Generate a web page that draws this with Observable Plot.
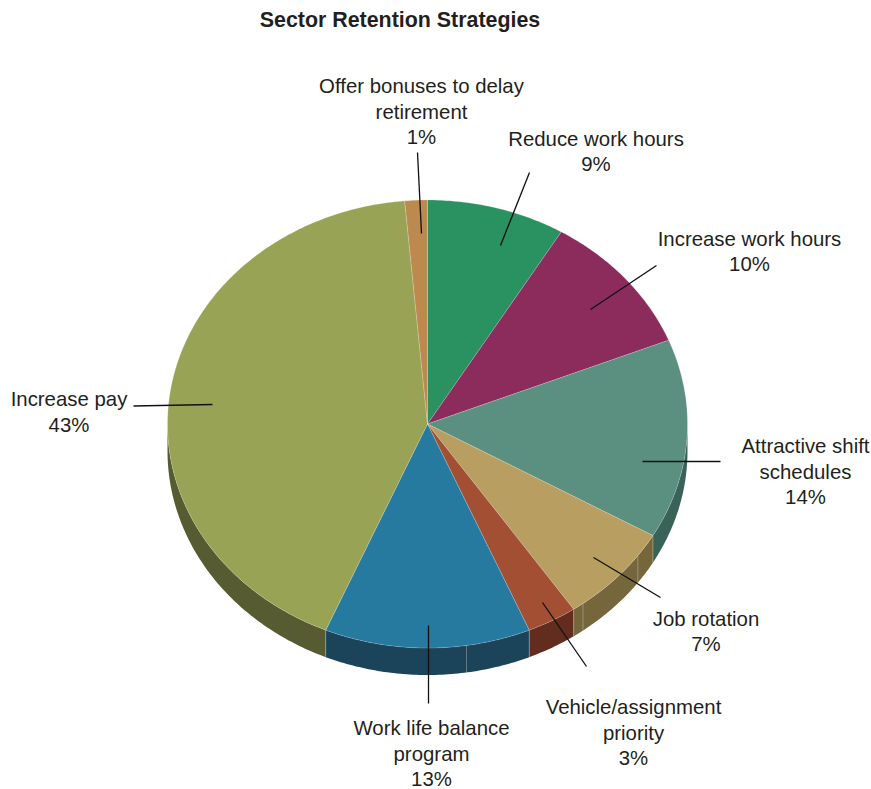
<!DOCTYPE html>
<html>
<head>
<meta charset="utf-8">
<script src="https://cdn.jsdelivr.net/npm/d3@7"></script>
<script src="https://cdn.jsdelivr.net/npm/@observablehq/plot@0.6"></script>
<style>
html,body{margin:0;padding:0;background:#fff;overflow:hidden}
#title{height:40px;width:800px;text-align:center;font:bold 21.4px "Liberation Sans",Arial,sans-serif;line-height:41px;color:#231f20;white-space:nowrap}
svg{display:block}
</style>
</head>
<body>
<div id="title">Sector Retention Strategies</div>
<div id="chart"></div>
<script>
// Slices, clockwise from twelve o'clock
const categories = ["Reduce work hours","Increase work hours","Attractive shift\nschedules","Job rotation","Vehicle/assignment\npriority","Work life balance\nprogram","Increase pay","Offer bonuses to delay\nretirement"];
const values = [8.6,10.3,14.4,7.2,3.1,12.8,42.2,1.4];
const percentLabels = ["9%","10%","14%","7%","3%","13%","43%","1%"];
const topColors = ["#2a9160","#8b2c5d","#5b9080","#b89e60","#a34f34","#26799f","#99a355","#bc8a4e"];
const sideColors = ["#1a5a3c","#561b3a","#3a6358","#76663c","#622d1e","#1b4359","#565b31","#75562f"];
// Extra seams visible on the pie's wall, in percent clockwise from the top
const wallSeams = [35,39.8,47.6];

// Annotation layout (page pixels)
const labelX = [595.5,749,805,705.5,633,431,68.5,421];
const labelY = [150,250,470,630,731,752,410.5,110];
const leaderX1 = [529,656,720,660,586,428,133,417];
const leaderY1 = [172,265,461,597,666,703,405.5,152];
const leaderX2 = [500,590,642,593,542,428,212,421];
const leaderY2 = [245,309,461,557,602,625,404,233];

// Pie geometry
const cx = 427, cy = 423.5, rx = 260, ry = 224, depth = 27;
const pos = (pct, extra = 0) => {
  const a = pct / 100 * 2 * Math.PI;
  return {x: cx + rx * Math.sin(a), y: cy - ry * Math.cos(a) + extra};
};

let cum = 0;
const slices = values.map((v, i) => {
  const s = {i, from: cum, to: cum + v};
  cum += v;
  return s;
});
const arcPts = (from, to, extra = 0) => {
  const n = Math.max(2, Math.ceil((to - from) / 0.2));
  return d3.range(n + 1).map(k => pos(from + (to - from) * k / n, extra));
};

const topFaces = slices.flatMap(s => [{x: cx, y: cy}, ...arcPts(s.from, s.to), {x: cx, y: cy}]
  .map(p => ({...p, key: categories[s.i], fill: topColors[s.i]})));

// The wall is visible only on the front half of the ellipse (25%..75%)
const wall = slices.flatMap(s => {
  const a = Math.max(s.from, 25), b = Math.min(s.to, 75);
  if (a >= b) return [];
  return [...arcPts(a, b), ...arcPts(a, b, depth).reverse()]
    .map(p => ({...p, key: categories[s.i], fill: sideColors[s.i]}));
});

const seamPcts = [...wallSeams, ...slices.map(s => s.to).filter(t => t > 25 && t < 75)];
const seams = seamPcts.map(p => ({x: pos(p).x, y1: pos(p).y, y2: pos(p, depth).y}));

const labels = categories.map((c, i) => ({text: `${c}\n${percentLabels[i]}`, x: labelX[i], y: labelY[i]}));
const leaders = categories.map((c, i) => ({x1: leaderX1[i], y1: leaderY1[i], x2: leaderX2[i], y2: leaderY2[i]}));

const chart = Plot.plot({
  width: 871, height: 749,
  margin: 0,
  x: {domain: [0, 871], range: [0, 871], axis: null},
  y: {domain: [40, 789], range: [0, 749], axis: null},
  color: {type: "identity"},
  marks: [
    Plot.line(wall, {x: "x", y: "y", z: "key", fill: "fill", stroke: "none"}),
    Plot.link(seams, {x1: "x", x2: "x", y1: "y1", y2: "y2", stroke: "#c8c8c0", strokeOpacity: 0.55, strokeWidth: 0.8}),
    Plot.line(topFaces, {x: "x", y: "y", z: "key", fill: "fill", stroke: "#ffffff", strokeOpacity: 0.3, strokeWidth: 0.6}),
    Plot.link(leaders, {x1: "x1", y1: "y1", x2: "x2", y2: "y2", stroke: "#111", strokeWidth: 1.3}),
    Plot.text(labels, {x: "x", y: "y", text: "text", fontSize: 20.4, lineHeight: 1.25, fill: "#231f20", fontFamily: "Liberation Sans, Arial, sans-serif"})
  ]
});
document.getElementById("chart").append(chart);
</script>
</body>
</html>
